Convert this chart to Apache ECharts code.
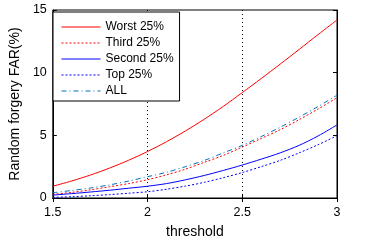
<!DOCTYPE html>
<html>
<head>
<meta charset="utf-8">
<script src="https://cdn.jsdelivr.net/npm/echarts@6/dist/echarts.min.js"></script>
<style>html,body{margin:0;padding:0;background:#fff;}#c{width:372px;height:244px;}</style>
</head>
<body>
<div id="c"></div>
<script>
var thresholds = [1.5,1.6,1.7,1.8,1.9,2.0,2.1,2.2,2.3,2.4,2.5,2.6,2.7,2.8,2.9,3.0];
var worst  = [0.94,1.36,1.84,2.39,3.01,3.71,4.49,5.35,6.29,7.31,8.41,9.53,10.68,11.85,13.04,14.2];
var third  = [0.29,0.45,0.65,0.9,1.15,1.46,1.85,2.3,2.85,3.4,4.06,4.75,5.45,6.25,7.1,8.0];
var second = [0.23,0.35,0.48,0.62,0.78,0.94,1.15,1.45,1.8,2.2,2.63,3.1,3.6,4.2,4.95,5.83];
var top25  = [0.05,0.1,0.18,0.27,0.38,0.5,0.7,0.95,1.25,1.62,2.03,2.5,3.0,3.6,4.25,4.97];
var all    = [0.42,0.6,0.8,1.05,1.35,1.7,2.05,2.5,3.0,3.6,4.2,4.9,5.65,6.45,7.3,8.2];
var seriesNames = ['Worst 25%','Third 25%','Second 25%','Top 25%','ALL'];
var xTicks = ['1.5','2','2.5','3'];
var yTicks = ['0','5','10','15'];

function pairs(v){ return thresholds.map(function(t,i){ return [t, v[i]]; }); }
var font = 'Liberation Sans, Arial, sans-serif';
function mk(name, data, color, type){
  return {name:name, type:'line', data:pairs(data), showSymbol:false, symbol:'none', smooth:0.3,
    lineStyle:{color:color, width:1, type:type}, itemStyle:{color:color}, z:3, animation:false};
}
var chart = echarts.init(document.getElementById('c'), null, {renderer:'canvas'});
chart.setOption({
  animation:false,
  grid:{left:49, right:35, top:10, bottom:42, show:true, borderColor:'#000', borderWidth:1},
  legend:{
    left:53, top:12, orient:'vertical',
    borderColor:'#000', borderWidth:1, backgroundColor:'#fff',
    padding:[9,6,4,8], itemGap:4, itemWidth:39, itemHeight:13,
    itemStyle:{opacity:0},
    lineStyle:{width:1},
    textStyle:{fontFamily:font, fontSize:12, color:'#000'},
    data:seriesNames
  },
  xAxis:[{
    type:'value', min:1.5, max:3, interval:0.5,
    name:'threshold', nameLocation:'middle', nameGap:27,
    nameTextStyle:{fontFamily:font, fontSize:14, color:'#000'},
    axisLine:{show:true, onZero:false, lineStyle:{color:'#000', width:1}},
    axisTick:{show:true, inside:true, length:4, lineStyle:{color:'#000'}},
    axisLabel:{fontFamily:font, fontSize:12.5, color:'#000', margin:8,
      formatter:function(v){ var s=String(Math.round(v*10)/10); return xTicks.indexOf(s)>=0?s:''; }},
    splitLine:{show:true, lineStyle:{color:'#000', type:[1,3], width:1}}
  },{
    type:'value', min:1.5, max:3, interval:0.5, position:'top',
    axisLine:{show:true, lineStyle:{color:'#000'}},
    axisTick:{show:true, inside:true, length:4, lineStyle:{color:'#000'}},
    axisLabel:{show:false}, splitLine:{show:false}
  }],
  yAxis:[{
    type:'value', min:0, max:15, interval:5,
    name:'Random forgery FAR(%)', nameLocation:'middle', nameGap:24,
    nameTextStyle:{fontFamily:font, fontSize:14, color:'#000'},
    axisLine:{show:true, onZero:false, lineStyle:{color:'#000', width:1}},
    axisTick:{show:true, inside:true, length:4, lineStyle:{color:'#000'}},
    axisLabel:{fontFamily:font, fontSize:12.5, color:'#000', margin:6,
      formatter:function(v){ var s=String(v); return yTicks.indexOf(s)>=0?s:''; }},
    splitLine:{show:false}
  },{
    type:'value', min:0, max:15, interval:5, position:'right',
    axisLine:{show:true, lineStyle:{color:'#000'}},
    axisTick:{show:true, inside:true, length:4, lineStyle:{color:'#000'}},
    axisLabel:{show:false}, splitLine:{show:false}
  }],
  series:[
    mk(seriesNames[0], worst, '#ff0000', 'solid'),
    mk(seriesNames[1], third, '#ff0000', [2,2]),
    mk(seriesNames[2], second, '#0000ff', 'solid'),
    mk(seriesNames[3], top25, '#0000ff', [2,2]),
    mk(seriesNames[4], all, '#0072BD', [5,3,1,3])
  ]
});
</script>
</body>
</html>
